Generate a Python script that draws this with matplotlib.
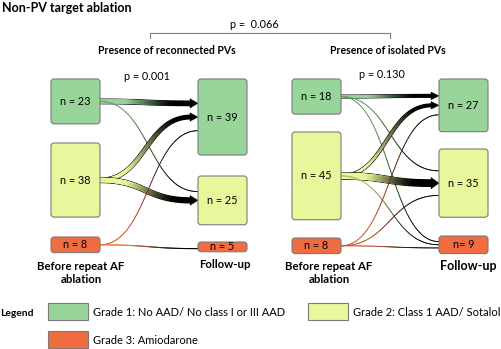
import numpy as np
import matplotlib
matplotlib.use('Agg')
import matplotlib.pyplot as plt
from matplotlib.patches import FancyBboxPatch, Polygon, Rectangle
from matplotlib.collections import LineCollection
from matplotlib.colors import to_rgb

plt.rcParams['font.family'] = ['Lato', 'DejaVu Sans']

# data
grades = ['Grade 1: No AAD/ No class I or III AAD', 'Grade 2: Class 1 AAD/ Sotalol', 'Grade 3: Amiodarone']
before_recon = [23, 38, 8]
after_recon = [39, 25, 5]
flows_recon = [[20, 3, 0],
               [16, 22, 0],
               [3, 0, 5]]
before_iso = [18, 45, 8]
after_iso = [27, 35, 9]
flows_iso = [[12, 4, 2],
             [12, 29, 4],
             [3, 2, 3]]
after_iso_labels = ['n = 27', 'n = 35', 'n= 9']
p_recon = 'p = 0.001'
p_iso = 'p = 0.130'
p_between = 'p =  0.066'

box_cols = ['#98d598', '#e9f69b', '#f26c42']
thin_cols = ['#5f9e60', '#a8b45a', '#c8552f']

fig = plt.figure(figsize=(5.02, 3.49), dpi=100)
ax = fig.add_axes([0, 0, 1, 1])
ax.set_xlim(0, 502)
ax.set_ylim(349, 0)
ax.axis('off')

PX = 0.72  # points per pixel
HS = 1.95  # box height per patient


def box(x, top, n, col, label, w=49):
    h = n * HS
    ax.add_patch(FancyBboxPatch((x, top), w, h, boxstyle='round,pad=0,rounding_size=3',
                                fc=col, ec='#7a7a7a', lw=0.8, zorder=3))
    ax.text(x + w / 2, top + h / 2, label, ha='center', va='center', fontsize=7.8, zorder=4)
    return top + h / 2, h


def flow(x0, y0, x1, y1, c, g):
    wpx = max(0.9, c * 0.22)
    head = c >= 10
    xe = x1 - 7 if head else x1
    t = np.linspace(0, 1, 120)
    d = (xe - x0) * 0.5
    bx = (1-t)**3*x0 + 3*(1-t)**2*t*(x0+d) + 3*(1-t)*t**2*(xe-d) + t**3*xe
    by = (1-t)**3*y0 + 3*(1-t)**2*t*y0 + 3*(1-t)*t**2*y1 + t**3*y1
    pts = np.column_stack([bx, by]).reshape(-1, 1, 2)
    segs = np.concatenate([pts[:-1], pts[1:]], axis=1)
    base = np.array(to_rgb(box_cols[g] if head or c >= 5 else thin_cols[g]))
    m = np.clip((t[:-1] - 0.25) / 0.6, 0, 1)[:, None]
    cols = base * (1 - m)
    if head:
        ax.plot(bx, by, color='black', lw=(wpx + 1.4) * PX, solid_capstyle='butt', zorder=2)
    ax.add_collection(LineCollection(segs, colors=cols, linewidths=wpx * PX,
                                     capstyle='round', joinstyle='round', zorder=2))
    if head:
        hw = wpx / 2 + 2.5
        ax.add_patch(Polygon([[xe - 1, y1 - hw], [x1, y1], [xe - 1, y1 + hw]],
                             closed=True, fc='black', ec='black', lw=0.3, zorder=2))


def panel(xl, xr, tops_l, tops_r, before, after, flows, labels_r):
    src = [box(xl, tops_l[i], before[i], box_cols[i], f'n = {before[i]}') for i in range(3)]
    dst = [box(xr, tops_r[j], after[j], box_cols[j], labels_r[j]) for j in range(3)]
    for i in range(3):
        for j in range(3):
            if flows[i][j] == 0:
                continue
            yc, h = dst[j]
            y1 = yc + (i - 1) * 0.18 * h
            flow(xl + 49, src[i][0], xr, y1, flows[i][j], i)


panel(51, 198, [79, 143, 237], [79, 176, 242], before_recon, after_recon, flows_recon,
      [f'n = {v}' for v in after_recon])
panel(292, 439, [79, 132, 238], [79, 149, 236], before_iso, after_iso, flows_iso, after_iso_labels)

# titles and p values
ax.text(2, 8, 'Non-PV target ablation', fontsize=9, fontweight='bold', va='center', ha='left')
ax.plot([150, 150, 390, 390], [38, 33, 33, 38], color='#808080', lw=0.8)
ax.text(254, 25, p_between, fontsize=7.8, ha='center', va='center')
ax.text(167, 51, 'Presence of reconnected PVs', fontsize=7.6, fontweight='bold', ha='center', va='center')
ax.text(388, 51, 'Presence of isolated PVs', fontsize=7.6, fontweight='bold', ha='center', va='center')
ax.text(147, 77, p_recon, fontsize=7.8, ha='center', va='center')
ax.text(382, 75, p_iso, fontsize=7.8, ha='center', va='center')

# column labels
for xc in (81, 329):
    ax.text(xc, 273, 'Before repeat AF\nablation', fontsize=8.2, fontweight='bold',
            ha='center', va='center', linespacing=1.25)
ax.text(225, 264, 'Follow-up', fontsize=8.2, fontweight='bold', ha='center', va='center')
ax.text(468, 266, 'Follow-up', fontsize=9, fontweight='bold', ha='center', va='center')

# legend
ax.text(0, 313, 'Legend', fontsize=7.4, fontweight='bold', ha='left', va='center')
leg_pos = [(48, 303), (308, 303), (48, 331)]
for k, (lx, ly) in enumerate(leg_pos):
    ax.add_patch(Rectangle((lx, ly), 40, 17, fc=box_cols[k], ec='#7a7a7a', lw=0.8))
    ax.text(lx + 45, ly + 9, grades[k], fontsize=8, ha='left', va='center')

plt.savefig('out.png', dpi=100)
